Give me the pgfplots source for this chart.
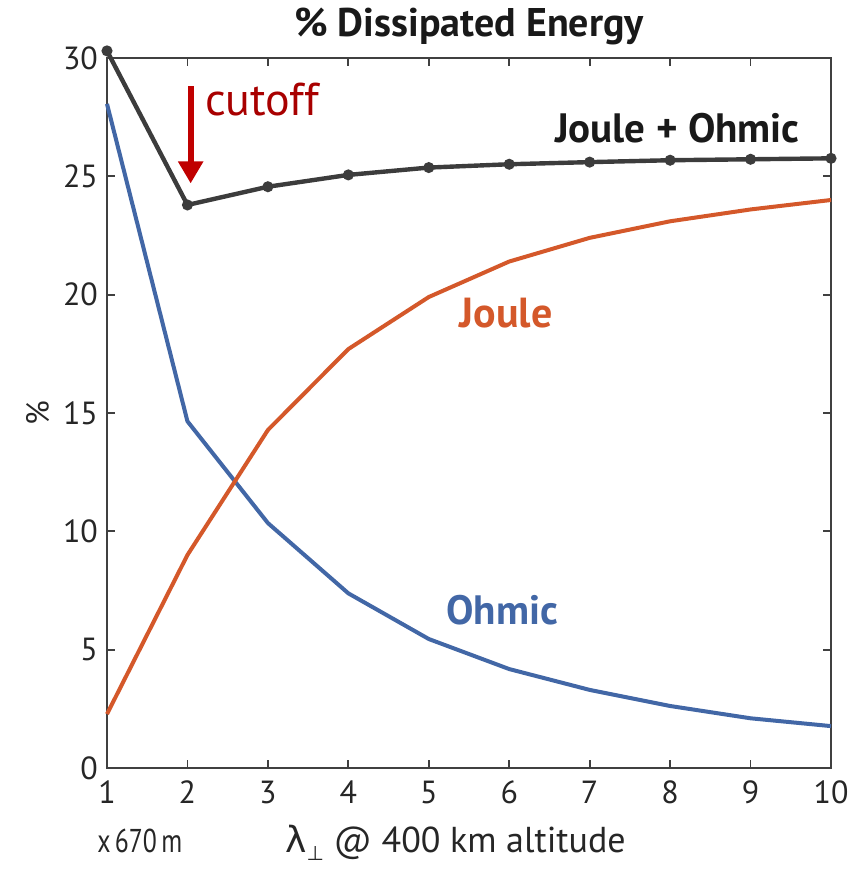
\documentclass[border=0pt]{standalone}
\usepackage{fontspec}
\setmainfont{PT Sans}
\newfontfamily\greek{DejaVu Sans}
\usepackage{graphicx}
\usepackage{pgfplots}
\pgfplotsset{compat=1.18}
\usetikzlibrary{calc,arrows.meta}

\definecolor{lineblack}{HTML}{3C3C3C}
\definecolor{joule}{HTML}{D4582A}
\definecolor{ohmic}{HTML}{4267A6}
\definecolor{cutred}{HTML}{A80000}
\definecolor{arrred}{HTML}{C00000}
\definecolor{axgray}{HTML}{404040}

\begin{document}
\begin{tikzpicture}
\begin{axis}[
  scale only axis,
  width=362pt, height=355pt,
  xmin=1, xmax=10, ymin=0, ymax=30,
  xtick={1,2,...,10},
  ytick={0,5,10,15,20,25,30},
  tick align=inside,
  major tick length=4pt,
  axis line style={axgray, line width=0.9pt},
  every tick/.style={axgray, line width=0.9pt},
  tick label style={font=\fontsize{16}{16}\selectfont, text=black!85},
  /pgf/number format/assume math mode=true,
  xticklabel style={yshift=-3pt},
  yticklabel style={xshift=-1pt},
  title={\bfseries\% Dissipated Energy},
  title style={font=\fontsize{20}{20}\selectfont, text=black!90, yshift=-3pt},
  ylabel={\%},
  ylabel style={font=\fontsize{16}{16}\selectfont, text=black!85},
  clip=false,
]
\addplot[ohmic, line width=2pt] coordinates {
  (1,28.06) (2,14.65) (3,10.35) (4,7.38) (5,5.45)
  (6,4.18) (7,3.30) (8,2.62) (9,2.10) (10,1.77)
};
\addplot[joule, line width=2pt] coordinates {
  (1,2.28) (2,9.00) (3,14.28) (4,17.70) (5,19.90)
  (6,21.40) (7,22.40) (8,23.10) (9,23.60) (10,24.00)
};
\addplot[lineblack, line width=2.2pt, mark=*, mark size=1.6pt,
  mark options={fill=lineblack, draw=lineblack}] coordinates {
  (1,30.30) (2,23.79) (3,24.56) (4,25.06) (5,25.37)
  (6,25.51) (7,25.60) (8,25.68) (9,25.72) (10,25.76)
};

\draw[arrred, line width=3pt, -{Triangle[width=12pt,length=11pt]}]
  (axis cs:2.04,28.8) -- (axis cs:2.04,24.7);
\node[cutred, font=\fontsize{23}{23}\selectfont] at (axis cs:2.93,28.25) {cutoff};
\node[black!90, font=\fontsize{20.5}{20.5}\selectfont\bfseries] at (axis cs:8.09,27.05) {Joule + Ohmic};
\node[joule, font=\fontsize{21}{21}\selectfont\bfseries] at (axis cs:5.96,19.2) {Joule};
\node[ohmic, font=\fontsize{20.5}{20.5}\selectfont\bfseries] at (axis cs:5.91,6.65) {Ohmic};

\node[black!85, anchor=base west, inner sep=0pt] at ($(current axis.south west)+(-5pt,-42pt)$)
  {\scalebox{0.78}[1]{\fontsize{16.5}{16.5}\selectfont x\,670\,m}};
\node[black!85, font=\fontsize{18}{18}\selectfont, anchor=base west, inner sep=0pt] at ($(current axis.south west)+(89pt,-42pt)$)
  {{\greek λ}\raisebox{-4pt}{\fontsize{10}{10}\selectfont\greek ⊥}\ @ 400 km altitude};
\end{axis}
\pgfresetboundingbox
\path ($(current axis.south west)+(-53.5pt,-53pt)$) rectangle ($(current axis.north east)+(9.5pt,29pt)$);
\end{tikzpicture}
\end{document}
